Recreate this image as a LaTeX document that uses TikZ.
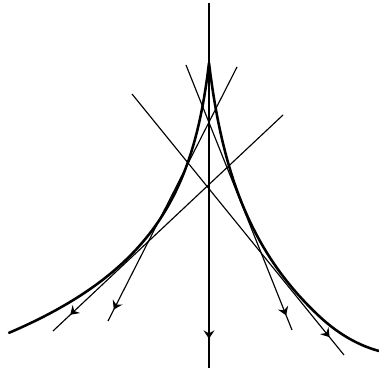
\documentclass[tikz,border=0pt]{standalone}
\usetikzlibrary{arrows.meta,decorations.markings}
\begin{document}
\begin{tikzpicture}[x=0.02cm,y=-0.02cm,
  ray/.style={line width=0.65pt},
  caustic/.style={line width=1.45pt, line join=round, line cap=round},
  tipat/.style={postaction={decorate}, decoration={markings, mark=at position #1 with {\arrow{Stealth[length=4.8pt,width=6.2pt,inset=1.7pt]}}}}]
\useasboundingbox (0,0) rectangle (379,371);
% axis
\coordinate (V1) at (209,3);   \coordinate (V2) at (209,368);
% rays
\coordinate (A1) at (186,65);  \coordinate (B1) at (292,330);
\coordinate (A2) at (237,67);  \coordinate (B2) at (108,321);
\coordinate (A3) at (132,94);  \coordinate (B3) at (344,355);
\coordinate (A4) at (283,115); \coordinate (B4) at (53,331);
% caustic (cusp at (209,63))
\draw[caustic] plot[domain=200:0, samples=120, variable=\d] ({209-\d},{63+90*ln(1+\d/10.5)})
  -- plot[domain=0:170, samples=120, variable=\d] ({209+\d},{63+116*ln(1+\d/14)-0.003*(max(0,\d-110))^2});
\draw[ray, line width=0.75pt, tipat=0.92] (V1) -- (V2);
\draw[ray, tipat=0.945] (A1) -- (B1);
\draw[ray, tipat=0.955] (A2) -- (B2);
\draw[ray, tipat=0.932] (A3) -- (B3);
\draw[ray, tipat=0.925] (A4) -- (B4);
\end{tikzpicture}
\end{document}
